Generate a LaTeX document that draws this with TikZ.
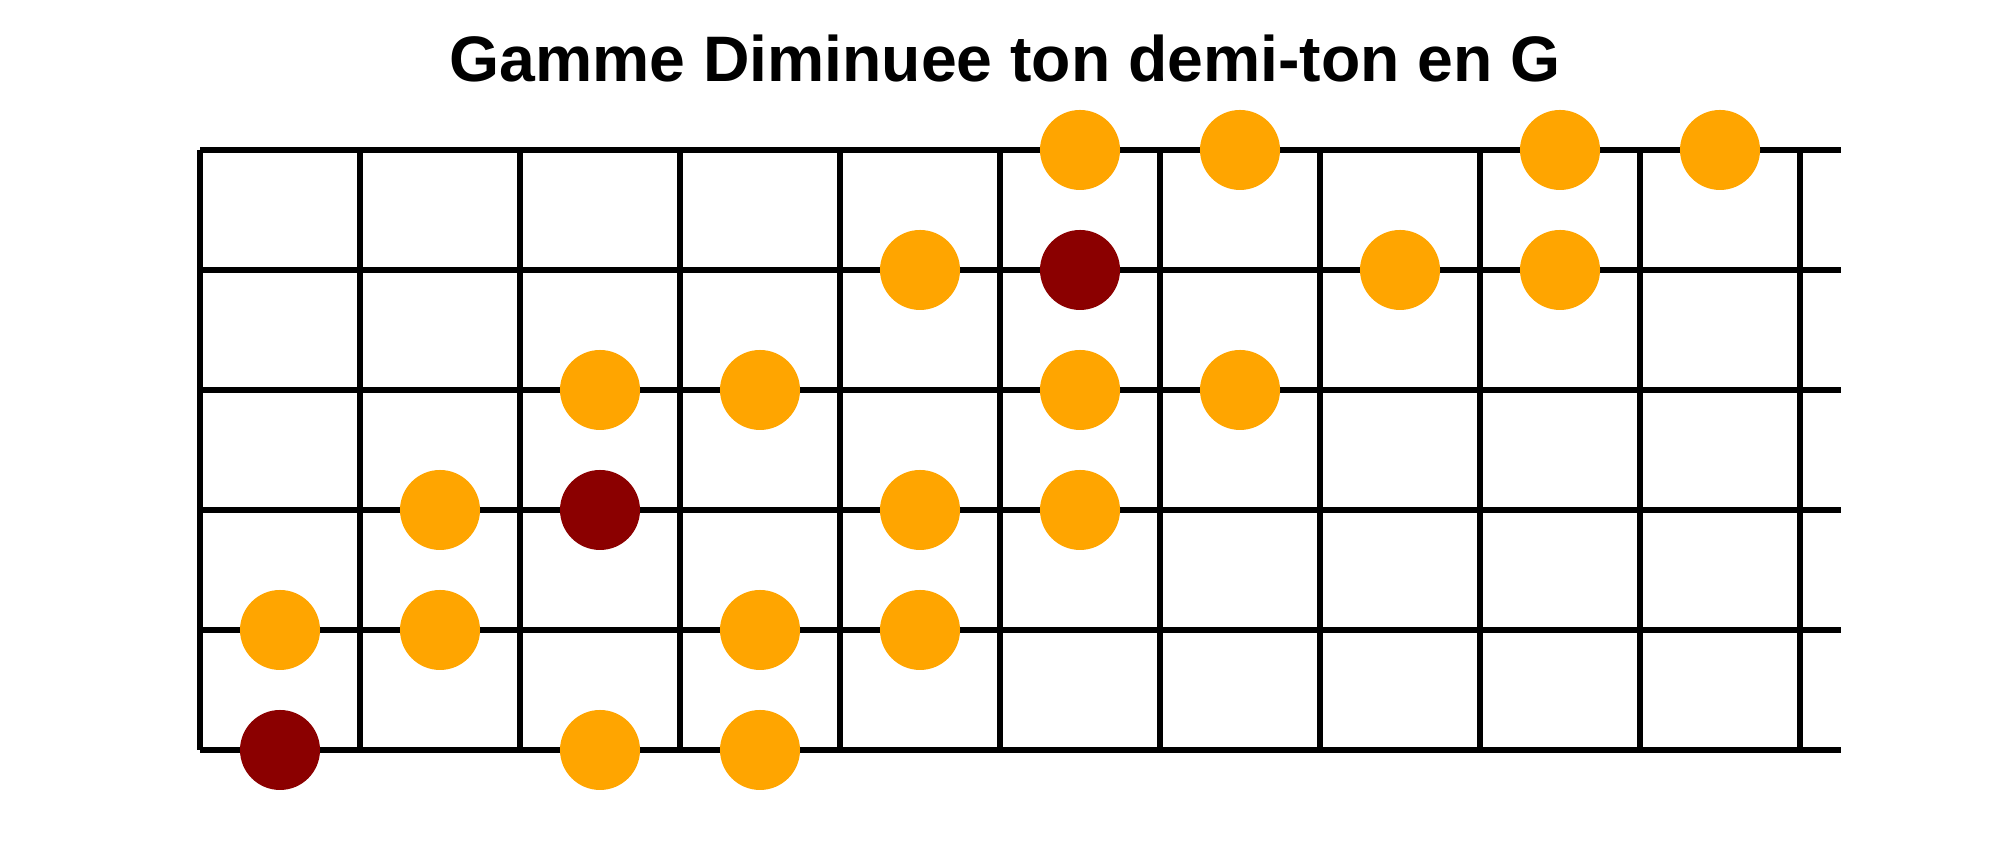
\documentclass[tikz,border=0pt]{standalone}
\usepackage{fontspec}
\setmainfont{Liberation Sans}
\usepackage{tikz}
\definecolor{noteorange}{HTML}{FFA500}
\definecolor{rootred}{HTML}{8B0000}

\begin{document}
\begin{tikzpicture}[line width=1.7pt,
        note/.style={circle, fill=noteorange, minimum size=8mm, inner sep=0pt},
        root/.style={note, fill=rootred}]
            \useasboundingbox (0,0) rectangle (20,8.5);
            \node (title) [anchor=base] at (10.05,7.68) {\fontsize{18.3}{22}\selectfont\bfseries Gamme Diminuee ton demi-ton en G};
            % cordes
            \foreach \s in {1,...,6}
                \draw (2,{8.2-1.2*\s}) -- (18.41,{8.2-1.2*\s});
            % frettes
            \foreach \f in {0,...,10}
                \draw ({2+1.6*\f},1) -- ({2+1.6*\f},7);
            % notes de la gamme
            \foreach \s/\f in {1/5,1/6,1/8,1/9,
                               2/4,2/7,2/8,
                               3/2,3/3,3/5,3/6,
                               4/1,4/4,4/5,
                               5/0,5/1,5/3,5/4,
                               6/2,6/3}
                \node[note] (n\s\f) at ({2.8+1.6*\f},{8.2-1.2*\s}) {};
            % toniques
            \foreach \s/\f in {2/5,4/2,6/0}
                \node[root] (r\s\f) at ({2.8+1.6*\f},{8.2-1.2*\s}) {};
        \end{tikzpicture}
\end{document}
